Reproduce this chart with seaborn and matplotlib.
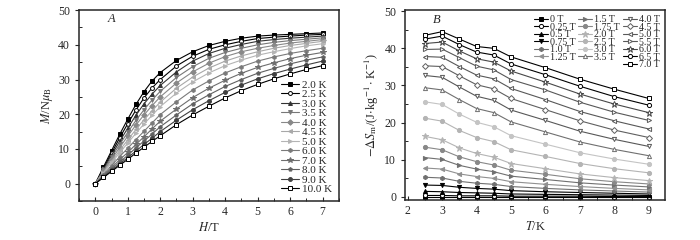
import numpy as np
import pandas as pd
import matplotlib
matplotlib.use("Agg")
import matplotlib.pyplot as plt
from matplotlib.lines import Line2D
from matplotlib.ticker import MultipleLocator
import seaborn as sns

sns.set_style("ticks")
plt.rcParams["font.family"] = ["Liberation Serif", "DejaVu Serif"]
plt.rcParams["mathtext.fontset"] = "stix"

# ---- panel A: magnetisation vs field ----
field = [0, 0.25, 0.5, 0.75, 1.0, 1.25, 1.5, 1.75, 2.0, 2.5, 3.0, 3.5, 4.0, 4.5, 5.0, 5.5, 6.0, 6.5, 7.0]
temps = ["2.0 K", "2.5 K", "3.0 K", "3.5 K", "4.0 K", "4.5 K", "5.0 K", "6.0 K", "7.0 K", "8.0 K", "9.0 K", "10.0 K"]
m_20 = [0, 4.8, 9.5, 14.2, 18.6, 22.8, 26.5, 29.6, 32.0, 35.5, 38.0, 39.8, 41.0, 41.9, 42.5, 42.8, 43.0, 43.2, 43.4]
m_25 = [0, 4.4, 8.8, 13.2, 17.3, 21.2, 24.7, 27.6, 30.0, 33.9, 36.7, 38.7, 40.0, 41.0, 41.8, 42.2, 42.5, 42.8, 43.0]
m_30 = [0, 4.1, 8.2, 12.2, 16.0, 19.7, 23.0, 25.8, 28.3, 32.2, 35.3, 37.5, 39.0, 40.1, 41.0, 41.5, 41.9, 42.2, 42.5]
m_35 = [0, 3.8, 7.6, 11.3, 14.8, 18.2, 21.3, 24.1, 26.6, 30.6, 33.7, 36.1, 37.8, 39.0, 40.0, 40.7, 41.2, 41.6, 42.0]
m_40 = [0, 3.5, 7.0, 10.4, 13.7, 16.9, 19.8, 22.5, 25.0, 29.0, 32.2, 34.7, 36.6, 38.0, 39.0, 39.8, 40.5, 41.0, 41.5]
m_45 = [0, 3.2, 6.4, 9.6, 12.6, 15.6, 18.4, 21.0, 23.5, 27.5, 30.7, 33.3, 35.3, 36.8, 38.0, 39.0, 39.8, 40.4, 41.0]
m_50 = [0, 3.0, 6.0, 8.9, 11.7, 14.5, 17.2, 19.7, 22.2, 26.1, 29.3, 31.9, 34.0, 35.6, 37.0, 38.0, 38.9, 39.7, 40.3]
m_60 = [0, 2.6, 5.2, 7.8, 10.2, 12.7, 15.1, 17.5, 19.9, 23.6, 27.0, 29.6, 31.9, 33.7, 35.3, 36.5, 37.5, 38.3, 39.0]
m_70 = [0, 2.3, 4.6, 6.9, 9.0, 11.3, 13.5, 15.8, 18.0, 21.5, 24.8, 27.5, 29.8, 31.8, 33.5, 34.8, 36.0, 37.0, 37.8]
m_80 = [0, 2.1, 4.2, 6.2, 8.2, 10.3, 12.3, 14.3, 16.4, 19.8, 23.0, 25.6, 28.0, 30.0, 31.8, 33.2, 34.5, 35.6, 36.5]
m_90 = [0, 1.9, 3.8, 5.7, 7.5, 9.4, 11.3, 13.1, 15.0, 18.3, 21.3, 23.9, 26.3, 28.4, 30.2, 31.7, 33.0, 34.2, 35.3]
m_100 = [0, 1.8, 3.5, 5.3, 7.0, 8.8, 10.5, 12.2, 13.8, 17.0, 19.8, 22.3, 24.7, 26.8, 28.6, 30.2, 31.6, 32.9, 34.0]
mag = [m_20, m_25, m_30, m_35, m_40, m_45, m_50, m_60, m_70, m_80, m_90, m_100]

# ---- panel B: entropy change vs temperature ----
temp_b = [2.5, 3.0, 3.5, 4.0, 4.5, 5.0, 6.0, 7.0, 8.0, 9.0]
fields_b = ["0 T", "0.25 T", "0.5 T", "0.75 T", "1.0 T", "1.25 T", "1.5 T", "1.75 T", "2.0 T", "2.5 T",
            "3.0 T", "3.5 T", "4.0 T", "4.5 T", "5.0 T", "5.5 T", "6.0 T", "6.5 T", "7.0 T"]
s_000 = [0.0, 0.0, 0.0, 0.0, 0.0, 0.0, 0.0, 0.0, 0.0, 0.0]
s_025 = [0.4, 0.4, 0.3, 0.3, 0.3, 0.2, 0.2, 0.2, 0.1, 0.1]
s_050 = [1.5, 1.4, 1.2, 1.1, 1.0, 0.8, 0.7, 0.6, 0.5, 0.4]
s_075 = [3.2, 3.1, 2.6, 2.3, 2.1, 1.7, 1.4, 1.2, 1.0, 0.8]
s_100 = [5.3, 5.1, 4.2, 3.7, 3.4, 2.8, 2.3, 1.9, 1.6, 1.3]
s_125 = [7.8, 7.5, 6.2, 5.5, 5.0, 4.1, 3.4, 2.8, 2.3, 1.9]
s_150 = [10.6, 10.1, 8.5, 7.5, 6.8, 5.6, 4.7, 3.8, 3.2, 2.7]
s_175 = [13.4, 12.7, 10.8, 9.5, 8.6, 7.2, 6.1, 4.9, 4.1, 3.5]
s_200 = [16.3, 15.4, 13.2, 11.7, 10.7, 9.0, 7.6, 6.2, 5.2, 4.4]
s_250 = [21.2, 20.4, 17.9, 16.0, 14.9, 12.7, 10.9, 9.0, 7.6, 6.5]
s_300 = [25.6, 24.9, 22.3, 20.1, 18.9, 16.5, 14.2, 11.9, 10.2, 8.8]
s_350 = [29.4, 28.8, 26.2, 23.8, 22.7, 20.2, 17.5, 14.8, 12.8, 11.1]
s_400 = [32.7, 32.2, 29.6, 27.1, 26.0, 23.4, 20.6, 17.7, 15.5, 13.6]
s_450 = [35.3, 35.1, 32.6, 30.2, 29.1, 26.5, 23.5, 20.5, 18.0, 16.0]
s_500 = [37.8, 37.6, 35.1, 32.8, 31.8, 29.2, 26.2, 23.0, 20.5, 18.3]
s_550 = [39.7, 39.8, 37.5, 35.2, 34.2, 31.6, 28.8, 25.5, 22.8, 20.6]
s_600 = [41.3, 41.7, 39.3, 37.2, 36.3, 33.9, 30.9, 27.7, 25.0, 22.7]
s_650 = [42.5, 43.3, 41.0, 39.0, 38.2, 35.8, 32.9, 29.8, 27.0, 24.7]
s_700 = [43.5, 44.5, 42.5, 40.5, 40.0, 37.7, 34.8, 31.7, 29.0, 26.5]
entropy = [s_000, s_025, s_050, s_075, s_100, s_125, s_150, s_175, s_200, s_250,
           s_300, s_350, s_400, s_450, s_500, s_550, s_600, s_650, s_700]

# marker style per series: (marker, colour, filled)
style_a = [("s", "#000000", True), ("o", "#000000", False), ("^", "#333333", True),
           ("v", "#777777", True), ("D", "#888888", True), ("<", "#a8a8a8", True),
           (">", "#b4b4b4", True), ("h", "#7a7a7a", True), ("*", "#6e6e6e", True),
           ("p", "#606060", True), ("o", "#404040", True), ("s", "#000000", False)]
style_b = [("s", "#000000", True), ("o", "#000000", False), ("^", "#000000", True),
           ("v", "#000000", True), ("h", "#707070", True), ("<", "#909090", True),
           (">", "#707070", True), ("o", "#888888", True), ("*", "#b4b4b4", True),
           ("o", "#b4b4b4", True), ("o", "#c4c4c4", True), ("^", "#707070", False),
           ("v", "#585858", False), ("D", "#606060", False), ("<", "#585858", False),
           (">", "#585858", False), ("*", "#484848", False), ("o", "#000000", False),
           ("s", "#000000", False)]

fig = plt.figure(figsize=(7, 2.4), dpi=100)
ax1 = fig.add_axes([0.113, 0.1625, 0.371, 0.7955])
ax2 = fig.add_axes([0.579, 0.167, 0.371, 0.791])


def draw(ax, x, y, lab, st, ms):
    mk, col, filled = st
    size = ms * 1.5 if mk == "*" else ms
    sns.lineplot(x=x, y=y, ax=ax, color=col, marker=mk, markersize=size,
                 markerfacecolor=col if filled else "white", markeredgecolor=col,
                 markeredgewidth=0.7, linewidth=0.8, label=lab)


for lab, vals, st in zip(temps, mag, style_a):
    draw(ax1, field, vals, lab, st, 2.8)

for lab, vals, st in zip(fields_b, entropy, style_b):
    draw(ax2, temp_b, vals, lab, st, 3.0)

for ax in (ax1, ax2):
    ax.yaxis.set_major_locator(MultipleLocator(10))
    ax.yaxis.set_minor_locator(MultipleLocator(5))
    ax.xaxis.set_major_locator(MultipleLocator(1))
    ax.xaxis.set_minor_locator(MultipleLocator(0.5))
    ax.tick_params(axis="both", which="major", labelsize=8.5, length=3, width=0.8, direction="in")
    ax.tick_params(axis="y", which="major", direction="out")
    ax.tick_params(axis="both", which="minor", length=2, width=0.7, direction="in")
    for sp in ax.spines.values():
        sp.set_linewidth(1.1)

ax1.set_xlim(-0.5, 7.5)
ax1.set_ylim(-5, 50)
ax1.set_xlabel(r"$H$/T", fontsize=9, labelpad=2)
ax1.set_ylabel(r"$M$/N$\mu_{\rm B}$", fontsize=9, labelpad=2)
ax1.text(0.37, 46.5, "A", fontsize=9, style="italic")
ax1.legend(loc="lower right", frameon=False, fontsize=8, handlelength=1.6,
           handletextpad=0.3, labelspacing=-0.025, borderaxespad=0.2)

ax2.set_xlim(1.93, 9.47)
ax2.set_ylim(-0.8, 50.3)
ax2.set_xlabel(r"$T$/K", fontsize=9, labelpad=2)
ax2.set_ylabel(r"$-\Delta S_{\rm m}$/(J$\cdot$kg$^{-1}\cdot$K$^{-1}$)", fontsize=9, labelpad=2)
ax2.text(2.72, 46.8, "B", fontsize=9, style="italic")

# legend: 3 columns, last column holds 7 entries
h, l = ax2.get_legend_handles_labels()
blank = Line2D([], [], linestyle="none")
h = h[:6] + [blank] + h[6:12] + [blank] + h[12:]
l = l[:6] + [""] + l[6:12] + [""] + l[12:]
ax2.legend(h, l, loc="upper right", ncol=3, frameon=False, fontsize=7.2,
           handlelength=1.4, handletextpad=0.2, columnspacing=0.3,
           labelspacing=-0.15, borderaxespad=0.1)

fig.savefig("out.png", dpi=100)
